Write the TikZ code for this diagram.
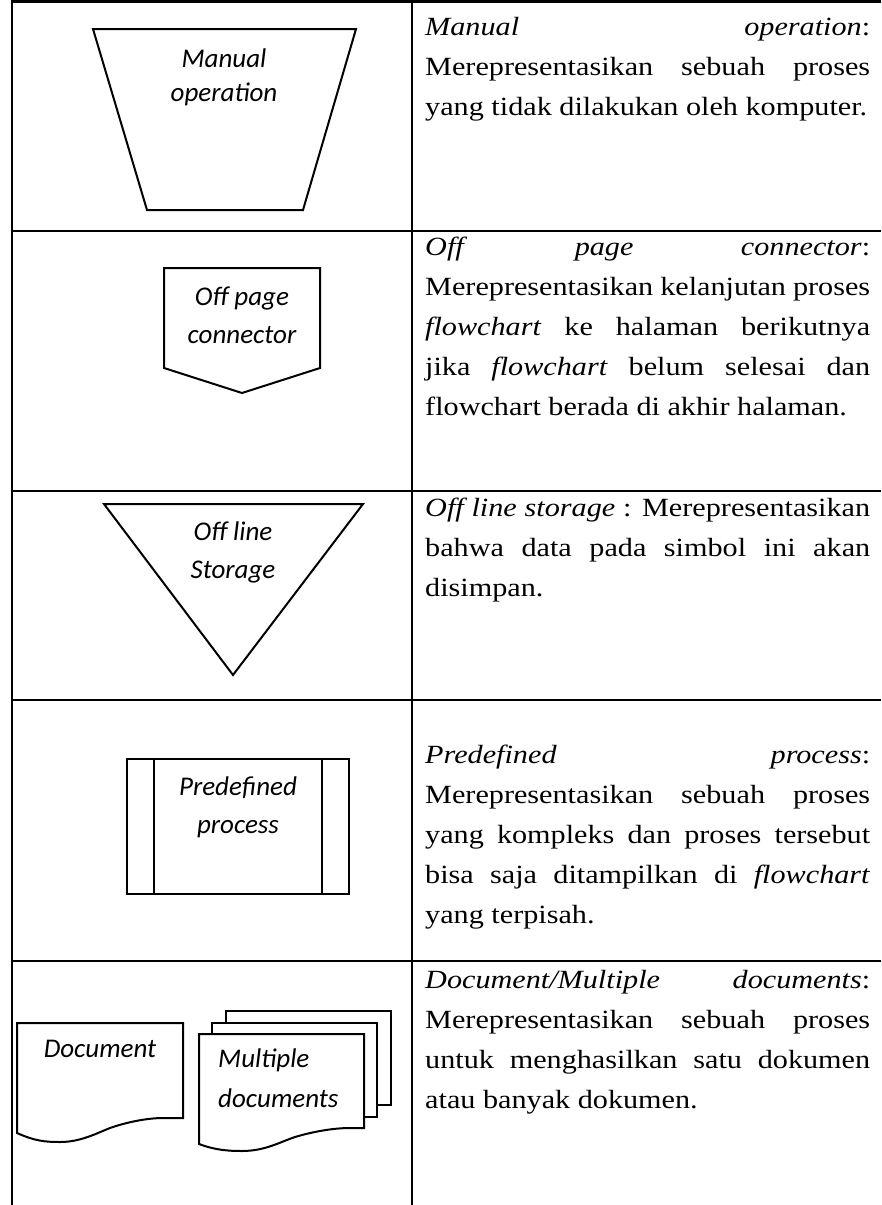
\documentclass[tikz,border=0pt]{standalone}
\usepackage{graphicx}
\usepackage{fontspec}
\setmainfont{Liberation Serif}
\newfontfamily\shapefont{Carlito}
% justified line and last (ragged) line of a description paragraph
\newcommand{\fullline}[1]{\scalebox{1}[0.87]{\makebox[\linewidth][s]{#1}}}
\newcommand{\lastline}[1]{\scalebox{1}[0.87]{#1}}
\newcommand{\desctext}[1]{\parbox[t]{445pt}{\fontsize{30.2}{40}\selectfont #1}}
\begin{document}
\begin{tikzpicture}[x=1pt,y=-1pt,
  grid/.style={line width=2.6pt},
  symbol/.style={line width=2pt, line join=miter, fill=white},
  lbl/.style={inner sep=0pt, anchor=base},
  desc/.style={inner sep=0pt, anchor=base west}]
\useasboundingbox (0,0) rectangle (881,1205);

% table rules
\draw[grid] (12,1.5) -- (881,1.5);
\draw[grid] (12,231) -- (881,231);
\draw[grid] (12,491) -- (881,491);
\draw[grid] (12,700) -- (881,700);
\draw[grid] (12,961) -- (881,961);
\draw[grid] (12,0) -- (12,1205);
\draw[grid] (412,0) -- (412,1205);

% manual operation (trapezoid)
\draw[symbol] (93,29) -- (356,29) -- (303,210) -- (147,210) -- cycle;
\node[lbl] (manual) at (224,67)
  {\parbox[t]{200pt}{\centering\shapefont\itshape\fontsize{27}{34}\selectfont Manual\\operation}};

% off page connector
\draw[symbol] (164,268) -- (320,268) -- (320,368) -- (242,393) -- (164,368) -- cycle;
\node[lbl] (offpage) at (242,305)
  {\parbox[t]{150pt}{\centering\shapefont\itshape\fontsize{27}{38}\selectfont Off page\\connector}};

% off line storage (inverted triangle)
\draw[symbol] (104,504) -- (363,504) -- (233,675) -- cycle;
\node[lbl] (storage) at (233,540)
  {\parbox[t]{150pt}{\centering\shapefont\itshape\fontsize{27}{38}\selectfont Off line\\Storage}};

% predefined process
\draw[symbol] (127,759) rectangle (349,894);
\draw[symbol] (154,759) -- (154,894);
\draw[symbol] (322,759) -- (322,894);
\node[lbl] (predef) at (238,795)
  {\parbox[t]{160pt}{\centering\shapefont\itshape\fontsize{27}{38}\selectfont Predefined\\process}};

% single document
\draw[symbol] (17,1133) -- (17,1023) -- (183,1023) -- (183,1118) -- (163,1118)
  .. controls (150,1118) and (130,1121) .. (110,1128)
  .. controls (95,1134) and (80,1142) .. (60,1142)
  .. controls (45,1142) and (35,1141) .. cycle;
\node[lbl] (doc) at (100,1057)
  {\shapefont\itshape\fontsize{27}{38}\selectfont Document};

% multiple documents (three stacked pages)
\draw[symbol] (226,1011) rectangle (391,1105);
\draw[symbol] (212,1023) rectangle (377,1117);
\draw[symbol] (199,1144) -- (199,1034) -- (364,1034) -- (364,1128) -- (350,1128)
  .. controls (335,1128) and (315,1131) .. (295,1137)
  .. controls (280,1142) and (265,1151) .. (242,1151)
  .. controls (228,1151) and (215,1150) .. cycle;
\node[lbl, anchor=base west] (multi) at (218,1067)
  {\parbox[t]{150pt}{\raggedright\shapefont\itshape\fontsize{27}{40}\selectfont Multiple\\documents}};

% descriptions
\node[desc] (d1) at (425,35) {\desctext{%
  \fullline{\textit{Manual} \textit{operation}:}\\
  \fullline{Merepresentasikan sebuah proses}\\
  \lastline{yang tidak dilakukan oleh komputer.}}};

\node[desc] (d2) at (425,255) {\desctext{%
  \fullline{\textit{Off} \textit{page} \textit{connector}:}\\
  \fullline{Merepresentasikan kelanjutan proses}\\
  \fullline{\textit{flowchart} ke halaman berikutnya}\\
  \fullline{jika \textit{flowchart} belum selesai dan}\\
  \lastline{flowchart berada di akhir halaman.}}};

\node[desc] (d3) at (425,516) {\desctext{%
  \fullline{\textit{Off line storage} : Merepresentasikan}\\
  \fullline{bahwa data pada simbol ini akan}\\
  \lastline{disimpan.}}};

\node[desc] (d4) at (425,763) {\desctext{%
  \fullline{\textit{Predefined} \textit{process}:}\\
  \fullline{Merepresentasikan sebuah proses}\\
  \fullline{yang kompleks dan proses tersebut}\\
  \fullline{bisa saja ditampilkan di \textit{flowchart}}\\
  \lastline{yang terpisah.}}};

\node[desc] (d5) at (425,988) {\desctext{%
  \fullline{\textit{Document/Multiple} \textit{documents}:}\\
  \fullline{Merepresentasikan sebuah proses}\\
  \fullline{untuk menghasilkan satu dokumen}\\
  \lastline{atau banyak dokumen.}}};
\end{tikzpicture}
\end{document}
